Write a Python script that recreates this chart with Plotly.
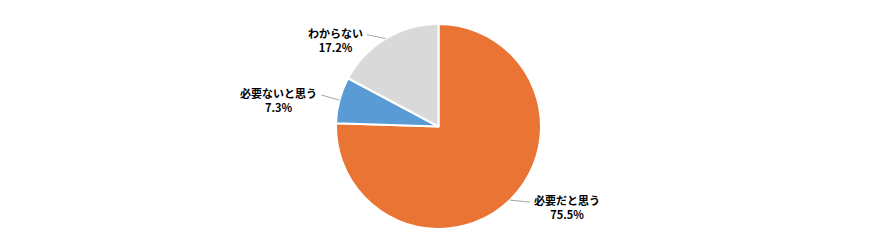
import math
import plotly.graph_objects as go

labels = ["必要だと思う", "必要ないと思う", "わからない"]
values = [75.5, 7.3, 17.2]
colors = ["#E97433", "#5B9BD5", "#D9D9D9"]

W, H = 893, 241
cx, cy, r = 438.5, 126.5, 102.5  # pixel geometry of the pie
# leader line offsets (dx, dy) from rim point, in pixels
leader = [(20, 2), (-18, -5), (-19, -4)]

fig = go.Figure(go.Pie(
    labels=labels, values=values, sort=False, direction="clockwise", rotation=0,
    marker=dict(colors=colors, line=dict(color="white", width=2)),
    textinfo="none", hoverinfo="label+percent", showlegend=False,
    domain=dict(x=[(cx - r) / W, (cx + r) / W], y=[1 - (cy + r) / H, 1 - (cy - r) / H]),
))

total = sum(values)
cum = 0
shapes, annots = [], []
for lab, v, (dx, dy) in zip(labels, values, leader):
    mid = (cum + v / 2) / total * 2 * math.pi
    cum += v
    x0 = cx + r * math.sin(mid)
    y0 = cy - r * math.cos(mid)
    x1, y1 = x0 + dx, y0 + dy
    shapes.append(dict(type="line", xref="paper", yref="paper",
                       x0=x0 / W, y0=1 - y0 / H, x1=x1 / W, y1=1 - y1 / H,
                       line=dict(color="#A6A6A6", width=1)))
    right = dx > 0
    annots.append(dict(
        xref="paper", yref="paper",
        x=(x1 + (2 if right else -2)) / W, y=1 - (y1 + 5) / H,
        xanchor="left" if right else "right", yanchor="middle",
        text=f"<b>{lab}<br>{v:.1f}%</b>", showarrow=False, align="center",
        font=dict(family="Noto Sans CJK JP", size=11, color="#000000"),
    ))

fig.update_layout(
    width=W, height=H, margin=dict(l=0, r=0, t=0, b=0),
    paper_bgcolor="white", plot_bgcolor="white",
    shapes=shapes, annotations=annots,
)
fig.write_html("out.html")
